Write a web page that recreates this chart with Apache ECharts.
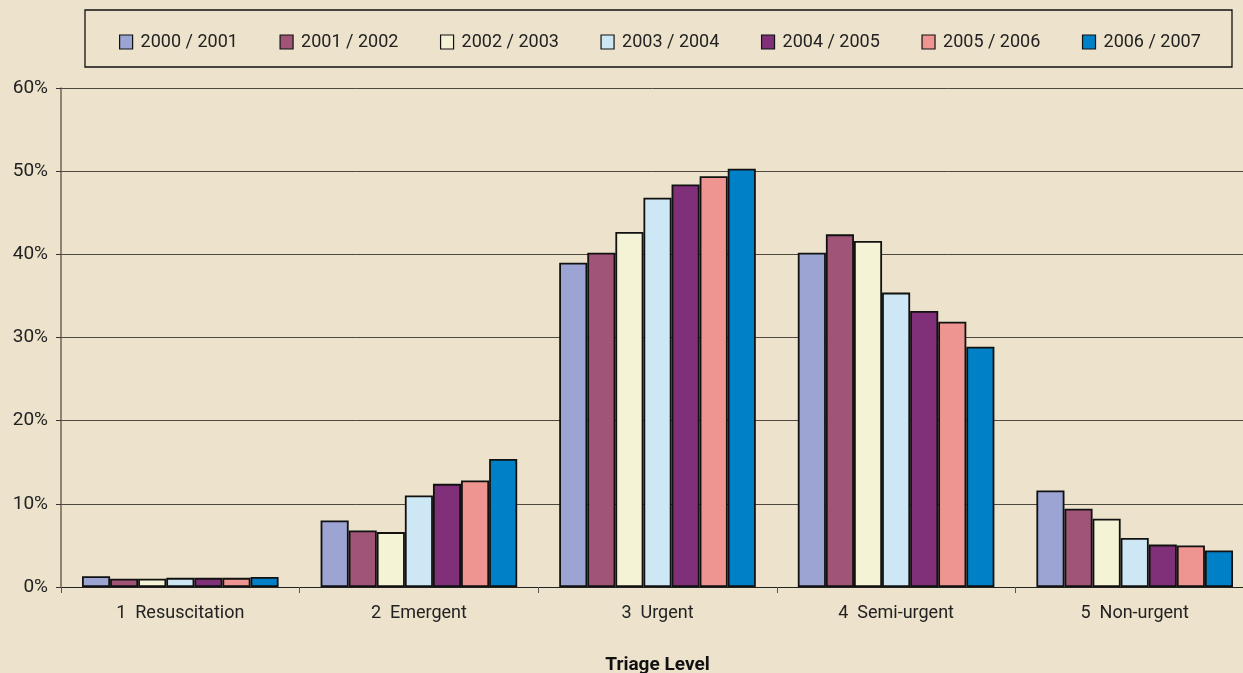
<!DOCTYPE html>
<html>
<head>
<meta charset="utf-8">
<script src="https://cdn.jsdelivr.net/npm/echarts@6/dist/echarts.min.js"></script>
<style>
html,body{margin:0;padding:0;background:#ede3cc;}
#c{width:1243px;height:673px;}
</style>
</head>
<body>
<div id="c"></div>
<script>
const categories = ['1  Resuscitation', '2  Emergent', '3  Urgent', '4  Semi-urgent', '5  Non-urgent'];
const seriesNames = ['2000 / 2001', '2001 / 2002', '2002 / 2003', '2003 / 2004', '2004 / 2005', '2005 / 2006', '2006 / 2007'];
const y2000 = [1.3, 8.0, 39.0, 40.2, 11.6];
const y2001 = [1.0, 6.8, 40.2, 42.4, 9.4];
const y2002 = [1.0, 6.6, 42.7, 41.6, 8.2];
const y2003 = [1.1, 11.0, 46.8, 35.4, 5.9];
const y2004 = [1.1, 12.4, 48.4, 33.2, 5.1];
const y2005 = [1.1, 12.8, 49.4, 31.9, 5.0];
const y2006 = [1.2, 15.4, 50.3, 28.9, 4.4];
const yTicks = [0, 10, 20, 30, 40, 50, 60];
const colors = ['#9ca4d4', '#a05577', '#f5f3d6', '#cde8f4', '#7f3079', '#ef9591', '#0080c6'];
const allValues = [y2000, y2001, y2002, y2003, y2004, y2005, y2006];

const FONT = "Roboto, 'Liberation Sans', sans-serif";
const chart = echarts.init(document.getElementById('c'), null, {renderer: 'canvas'});
chart.setOption({
  backgroundColor: '#ede3cc',
  animation: false,
  color: colors,
  graphic: [{
    type: 'rect',
    shape: {x: 85, y: 10, width: 1147, height: 57},
    style: {fill: 'none', stroke: '#111', lineWidth: 1.3},
    silent: true
  }],
  legend: {
    left: 119, top: 33,
    padding: 0,
    itemWidth: 13, itemHeight: 14,
    itemGap: 41.6,
    icon: 'rect',
    itemStyle: {borderColor: '#111', borderWidth: 1.2},
    textStyle: {fontFamily: FONT, fontSize: 18, color: '#222', padding: [0, 0, 0, 3]},
    data: seriesNames
  },
  grid: {left: 61, top: 88, width: 1193, height: 499, containLabel: false, outerBoundsMode: 'none'},
  xAxis: {
    type: 'category',
    data: categories,
    axisLine: {lineStyle: {color: '#222', width: 1}},
    axisTick: {show: true, length: 6, lineStyle: {color: '#555'}},
    axisLabel: {fontFamily: FONT, fontSize: 18, color: '#222', margin: 17},
    name: 'Triage Level',
    nameLocation: 'middle',
    nameGap: 69,
    nameTextStyle: {fontFamily: FONT, fontSize: 19, fontWeight: 'bold', color: '#111'}
  },
  yAxis: {
    type: 'value',
    min: yTicks[0], max: yTicks[yTicks.length - 1], interval: 10,
    axisLine: {show: true, lineStyle: {color: '#6b6353', width: 1.5}},
    axisTick: {show: true, length: 5, lineStyle: {color: '#333'}},
    axisLabel: {fontFamily: FONT, fontSize: 19, color: '#222', margin: 13, formatter: '{value}%'},
    splitLine: {lineStyle: {color: '#4d493f', width: 1}}
  },
  series: seriesNames.map((n, i) => ({
    name: n,
    type: 'bar',
    data: allValues[i],
    barGap: '0%',
    barCategoryGap: '17.6%',
    itemStyle: {color: colors[i], borderColor: '#111', borderWidth: 1.8}
  }))
});
</script>
</body>
</html>
